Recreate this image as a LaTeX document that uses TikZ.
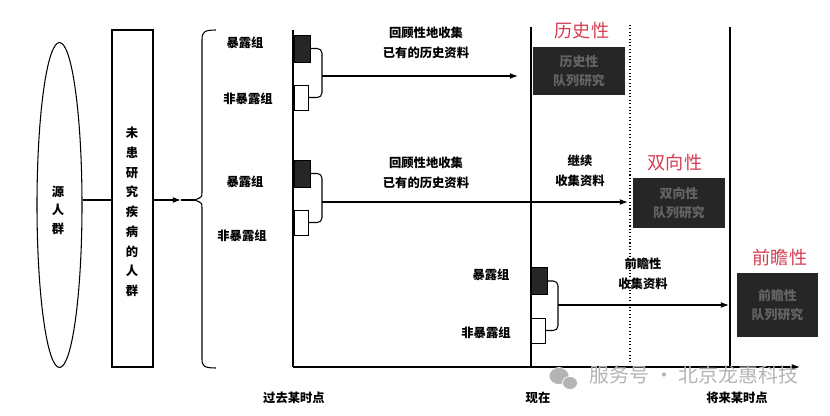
\documentclass[tikz,border=0pt]{standalone}
\usepackage{fontspec}
\setmainfont{Noto Sans CJK SC}
\usetikzlibrary{arrows.meta,shapes.geometric}
\definecolor{tagred}{RGB}{214,62,82}
\definecolor{boxfill}{RGB}{38,38,38}
\definecolor{boxtext}{RGB}{100,100,100}
\definecolor{markgray}{RGB}{180,180,180}
\tikzset{
  line/.style={line width=0.9pt},
  exbox/.style={draw,line width=0.8pt,fill=black!85,minimum width=0.48cm,minimum height=0.81cm,inner sep=0pt},
  nexbox/.style={draw,line width=0.8pt,fill=white,minimum width=0.42cm,minimum height=0.75cm,inner sep=0pt},
  cohort/.style={fill=boxfill,text=boxtext,align=center,inner sep=0pt,font=\fontsize{11}{16}\selectfont\bfseries},
  tag/.style={text=tagred,inner sep=0pt,font=\fontsize{15.5}{18}\selectfont},
  lbl/.style={align=center,inner sep=0pt,font=\fontsize{10.5}{17}\selectfont\bfseries},
}
\begin{document}
\begin{tikzpicture}[x=0.03cm,y=-0.03cm,>={Latex[length=7pt,width=5pt]}]
\useasboundingbox (0,0) rectangle (830,416);
\coordinate (o)  at (293,367);
\coordinate (ax) at (800,367);
\coordinate (bt) at (195,200);
\coordinate (bm) at (181,200);
\coordinate (b1) at (322,76);
\coordinate (t1) at (518,76);
\coordinate (b2) at (322,202);
\coordinate (t2) at (628,202);
\coordinate (b3) at (558,305);
\coordinate (t3) at (729,305);

% source and study population
\node[draw,ellipse,line width=0.9pt,minimum width=1.35cm,minimum height=9.75cm,inner sep=0pt] (src) at (59.5,205) {};
\node[lbl,font=\fontsize{10.5}{15.7}\selectfont\bfseries] at (58,210) {源\\人\\群};
\node[draw,line width=0.9pt,minimum width=1.23cm,minimum height=10.11cm,inner sep=0pt] (pop) at (132.5,198.5) {};
\node[lbl,font=\fontsize{10.5}{16.8}\selectfont\bfseries] at (132,212) {未\\患\\研\\究\\疾\\病\\的\\人\\群};

\draw[line] (src.east |- bt) -- (pop.west |- bt);
\draw[line,->] (pop.east |- bt) -- (bm);
\draw[line] (bm) -- (bt);
\draw[line] (216,30) .. controls (204,30) and (202,32) .. (202,40) -- (202,192)
  .. controls (202,197) .. (bt) .. controls (202,203) .. (202,208) -- (202,359)
  .. controls (202,366) and (204,368) .. (216,368);

% time axis
\draw[line] (293,30) -- (o);
\draw[line,->] (o) -- (ax);
\draw[line] (531,27) -- (531,367);
\draw[line,dotted] (630,25) -- (630,363);
\draw[line width=1.3pt] (730,27) -- (730,367);

\node[lbl] at (294,398) {过去某时点};
\node[lbl] at (538,398) {现在};
\node[lbl] at (737,398) {将来某时点};

% historical
\node[lbl] at (245,43) {暴露组};
\node[lbl] at (248,99) {非暴露组};
\node[exbox] (e1) at (302,48.5) {};
\node[nexbox] (n1) at (301,97.5) {};
\draw[line,rounded corners=4pt] (e1.east) -| (b1) |- (n1.east);
\draw[line,->] (b1) -- (t1);
\node[lbl] at (426,43) {回顾性地收集\\已有的历史资料};
\node[tag] at (582,31) {历史性};
\node[cohort,minimum width=2.76cm,minimum height=1.44cm] (c1) at (579,71) {历史性\\队列研究};

% ambidirectional
\node[lbl] at (245,182) {暴露组};
\node[lbl] at (242,236) {非暴露组};
\node[exbox] (e2) at (302,173.5) {};
\node[nexbox] (n2) at (301,222.5) {};
\draw[line,rounded corners=4pt] (e2.east) -| (b2) |- (n2.east);
\draw[line,->] (b2) -- (t2);
\node[lbl] at (426,172.5) {回顾性地收集\\已有的历史资料};
\node[lbl] at (580,171) {继续\\收集资料};
\node[tag] at (675,163) {双向性};
\node[cohort,minimum width=2.76cm,minimum height=1.5cm] (c2) at (679,203) {双向性\\队列研究};

% prospective
\node[lbl] at (491,275) {暴露组};
\node[lbl] at (486,333) {非暴露组};
\node[exbox] (e3) at (539,281) {};
\node[nexbox] (n3) at (538,330.5) {};
\draw[line,rounded corners=4pt] (e3.east) -| (b3) |- (n3.east);
\draw[line,->] (b3) -- (t3);
\node[lbl] at (643,274) {前瞻性\\收集资料};
\node[tag] at (780,258) {前瞻性};
\node[cohort,minimum width=2.43cm,minimum height=1.92cm] (c3) at (777.5,305) {前瞻性\\队列研究};

% watermark
\fill[markgray,draw=white,line width=0.6pt] (559,376) ellipse (10 and 8.5);
\fill[markgray,draw=white,line width=0.6pt] (570,383) ellipse (7.5 and 6.5);
\node[text=markgray,inner sep=0pt,font=\fontsize{17}{20}\selectfont] at (694,375) {服务号 · 北京龙惠科技};
\end{tikzpicture}
\end{document}
